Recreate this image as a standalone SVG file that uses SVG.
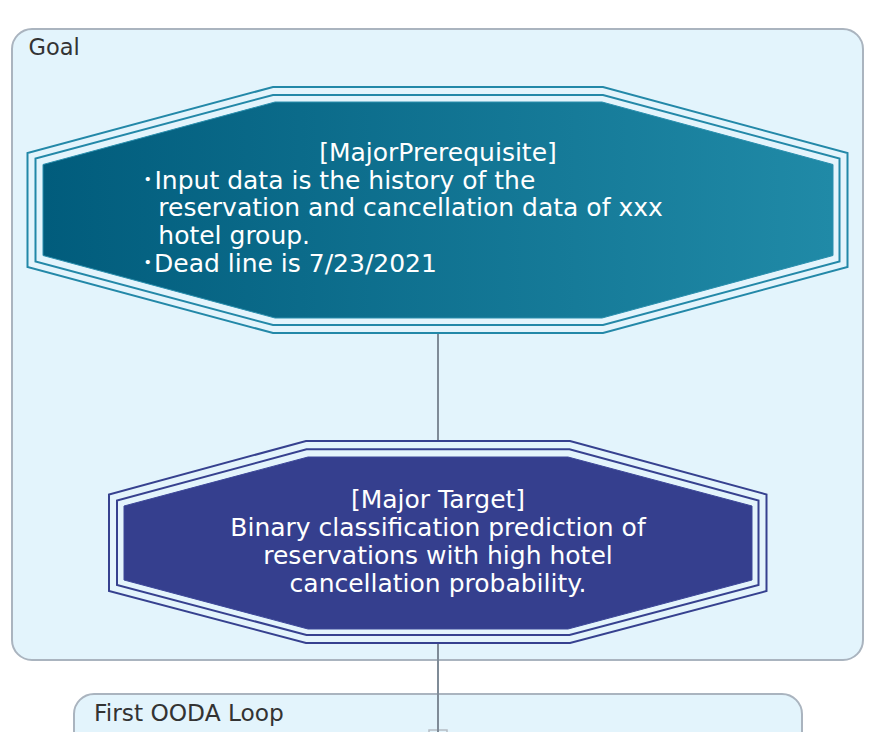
<svg xmlns="http://www.w3.org/2000/svg" width="871" height="732" viewBox="0 0 871 732">
  <style>
    .container { fill: #e3f4fc; stroke: #aab4bf; stroke-width: 2; }
    .clabel { font-family: "DejaVu Sans", "Noto Sans CJK JP", sans-serif; fill: #333333; }
    .ntext { font-family: "DejaVu Sans", "Noto Sans CJK JP", sans-serif; font-size: 25px; fill: #ffffff; }
    .teal-line { fill: none; stroke: #2388a8; stroke-width: 2; }
    .navy-line { fill: none; stroke: #36418f; stroke-width: 2; }
    .conn { stroke: #7f8b97; stroke-width: 2; fill: none; }
  </style>
  <defs>
    <linearGradient id="tealGrad" x1="0" y1="0" x2="1" y2="0">
      <stop offset="0" stop-color="#015c7c"/>
      <stop offset="1" stop-color="#208aa7"/>
    </linearGradient>
  </defs>

  <rect width="871" height="732" fill="#ffffff"/>

  <g id="goal-container">
    <rect class="container" x="12" y="29" width="851" height="631" rx="20" ry="20"/>
    <text class="clabel" x="28.5" y="55" font-size="22.5">Goal</text>
  </g>

  <g id="ooda-container">
    <rect class="container" x="74" y="694" width="728" height="80" rx="20" ry="20"/>
    <text class="clabel" x="94" y="721" font-size="23.3">First OODA Loop</text>
    <rect x="429" y="730" width="18" height="4" fill="#e3f4fc" stroke="#b5bcc4" stroke-width="1.5"/>
  </g>

  <g id="connectors">
    <line class="conn" x1="438" y1="333" x2="438" y2="441"/>
    <line class="conn" x1="438" y1="643" x2="438" y2="732"/>
  </g>

  <g id="node-prerequisite">
    <polygon class="teal-line" points="273,87 603,87 847.5,153 847.5,267 603,333 273,333 27.5,267 27.5,153"/>
    <polygon class="teal-line" points="273,95 603,95 839.5,158.5 839.5,261.5 603,325 273,325 35.5,261.5 35.5,158.5"/>
    <polygon fill="url(#tealGrad)" stroke="#2a8fae" stroke-width="1" points="275,102 602,102 833,164.5 833,255.5 602,318 275,318 43,255.5 43,164.5"/>
    <text class="ntext" x="438" y="161" text-anchor="middle">[MajorPrerequisite]</text>
    <text class="ntext" y="188.5"><tspan x="141.5">･</tspan><tspan x="154.5">Input data is the history of the</tspan></text>
    <text class="ntext" x="158.3" y="216.3">reservation and cancellation data of xxx</text>
    <text class="ntext" x="158.3" y="244.2">hotel group.</text>
    <text class="ntext" y="272.2"><tspan x="141.5">･</tspan><tspan x="154">Dead line is 7/23/2021</tspan></text>
  </g>

  <g id="node-target">
    <polygon class="navy-line" points="306,441 570,441 766.5,494.5 766.5,591 570,643 306,643 109,591 109,494.5"/>
    <polygon class="navy-line" points="306.5,449.3 569.5,449.3 758.5,500.5 758.5,585 569.5,635 306.5,635 117,585 117,500.5"/>
    <polygon fill="#353f8e" stroke="#3d4899" stroke-width="1" points="308,457 568,457 752,506 752,580 568,629 308,629 124,580 124,506"/>
    <text class="ntext" x="438" y="508.3" text-anchor="middle">[Major Target]</text>
    <text class="ntext" x="438" y="536" text-anchor="middle">Binary classification prediction of</text>
    <text class="ntext" x="438" y="564" text-anchor="middle">reservations with high hotel</text>
    <text class="ntext" x="438" y="592" text-anchor="middle">cancellation probability.</text>
  </g>
</svg>
